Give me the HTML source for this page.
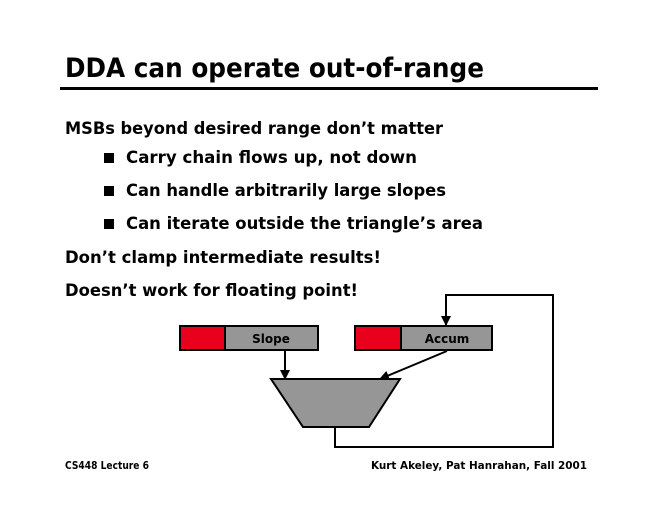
<!DOCTYPE html>
<html><head><meta charset="utf-8"><style>
html,body{margin:0;padding:0;background:#fff;}
svg{display:block;}
text{font-family:"DejaVu Sans","Liberation Sans",sans-serif;font-weight:bold;fill:#000;}
</style></head><body>
<svg width="660" height="510" viewBox="0 0 660 510" xmlns="http://www.w3.org/2000/svg">
<defs><marker id="a" markerWidth="10" markerHeight="10" refX="9" refY="5" orient="auto" markerUnits="userSpaceOnUse"><path d="M0,0 L10,5 L0,10 Z" fill="#000"/></marker></defs>
<text x="65" y="77" font-size="27" textLength="419" lengthAdjust="spacingAndGlyphs">DDA can operate out-of-range</text>
<rect x="60" y="87" width="538" height="3" fill="#000"/>
<text x="65" y="134" font-size="17" textLength="378" lengthAdjust="spacingAndGlyphs">MSBs beyond desired range don’t matter</text>
<rect x="104" y="153" width="10" height="10" fill="#000"/>
<text x="126" y="163" font-size="17" textLength="291" lengthAdjust="spacingAndGlyphs">Carry chain flows up, not down</text>
<rect x="104" y="186" width="10" height="10" fill="#000"/>
<text x="126" y="196" font-size="17" textLength="320" lengthAdjust="spacingAndGlyphs">Can handle arbitrarily large slopes</text>
<rect x="104" y="219" width="10" height="10" fill="#000"/>
<text x="126" y="229" font-size="17" textLength="357" lengthAdjust="spacingAndGlyphs">Can iterate outside the triangle’s area</text>
<text x="65" y="263" font-size="17" textLength="316" lengthAdjust="spacingAndGlyphs">Don’t clamp intermediate results!</text>
<text x="65" y="296" font-size="17" textLength="293" lengthAdjust="spacingAndGlyphs">Doesn’t work for floating point!</text>
<rect x="180" y="326" width="45" height="24" fill="#e8001c" stroke="#000" stroke-width="2"/>
<rect x="225" y="326" width="93" height="24" fill="#969696" stroke="#000" stroke-width="2"/>
<text x="271" y="343" font-size="12" text-anchor="middle">Slope</text>
<rect x="355" y="326" width="46" height="24" fill="#e8001c" stroke="#000" stroke-width="2"/>
<rect x="401" y="326" width="91" height="24" fill="#969696" stroke="#000" stroke-width="2"/>
<text x="447" y="343" font-size="12" text-anchor="middle">Accum</text>
<polygon points="271,379 400,379 369,427 303,427" fill="#969696" stroke="#000" stroke-width="2"/>
<line x1="285" y1="351" x2="285" y2="379" stroke="#000" stroke-width="2" marker-end="url(#a)"/>
<line x1="447" y1="351" x2="380" y2="379" stroke="#000" stroke-width="2" marker-end="url(#a)"/>
<polyline points="335,427 335,447 553,447 553,295 446,295 446,325" fill="none" stroke="#000" stroke-width="2" marker-end="url(#a)"/>
<text x="65" y="469" font-size="11" textLength="84" lengthAdjust="spacingAndGlyphs">CS448 Lecture 6</text>
<text x="371" y="469" font-size="11" textLength="216" lengthAdjust="spacingAndGlyphs">Kurt Akeley, Pat Hanrahan, Fall 2001</text>
</svg>
</body></html>
